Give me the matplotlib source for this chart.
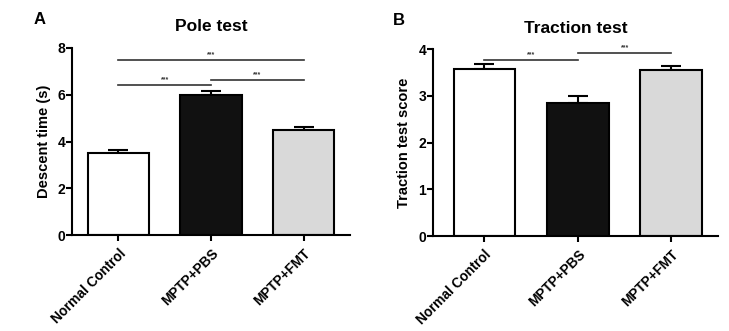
import numpy as np
import matplotlib.pyplot as plt

plt.rcParams['font.family'] = ['Liberation Sans', 'DejaVu Sans']
plt.rcParams['font.weight'] = 'bold'

groups = ['Normal Control', 'MPTP+PBS', 'MPTP+FMT']
bar_colors = ['white', '#111111', '#d9d9d9']

pole_mean = [3.5, 6.0, 4.5]
pole_sem = [0.13, 0.17, 0.1]
pole_sig = [(0, 2, 7.5), (0, 1, 6.42), (1, 2, 6.63)]

traction_mean = [3.58, 2.85, 3.55]
traction_sem = [0.11, 0.15, 0.1]
traction_sig = [(0, 1, 3.78), (1, 2, 3.93)]


def draw_panel(ax, means, sems, sigs, ymax, ystep, ylabel, title, letter, xlo):
    x = np.arange(len(groups))
    ax.bar(x, means, width=0.66, color=bar_colors, edgecolor='black', linewidth=1.5, zorder=2)
    ax.errorbar(x, means, yerr=[np.zeros(len(sems)), sems], fmt='none', ecolor='black',
                elinewidth=1.5, capsize=7, capthick=1.5, zorder=1)
    for x0, x1, y in sigs:
        ax.plot([x0, x1], [y, y], color='#333333', lw=1.2, clip_on=False)
        ax.text((x0 + x1) / 2, y + ymax * 0.008, '***', ha='center', va='bottom',
                fontsize=5, color='#333333')
    ax.set_xlim(xlo, 2.5)
    ax.set_ylim(0, ymax)
    ax.set_yticks(np.arange(0, ymax + 0.01, ystep))
    ax.set_xticks(x)
    ax.set_xticklabels(groups, rotation=45, ha='right', rotation_mode='anchor', fontsize=9.8)
    ax.tick_params(axis='y', labelsize=10, width=1.5, length=4, direction='out', pad=1)
    ax.tick_params(axis='x', width=1.5, length=4, direction='out', pad=4)
    for s in ['top', 'right']:
        ax.spines[s].set_visible(False)
    for s in ['left', 'bottom']:
        ax.spines[s].set_linewidth(1.5)
    ax.set_ylabel(ylabel, fontsize=10.5, fontweight='bold', labelpad=5)
    ax.set_title(title, fontsize=12.5, fontweight='bold', pad=12)
    ax.text(-0.14, 1.13, letter, transform=ax.transAxes, fontsize=12, fontweight='bold',
            va='baseline')


fig = plt.figure(figsize=(7.29, 3.31), dpi=100)
ax1 = fig.add_axes([0.099, 0.29, 0.381, 0.565])
ax2 = fig.add_axes([0.594, 0.287, 0.391, 0.564])

draw_panel(ax1, pole_mean, pole_sem, pole_sig, 8, 2, 'Descent time (s)', 'Pole test', 'A', -0.5)
draw_panel(ax2, traction_mean, traction_sem, traction_sig, 4, 1, 'Traction test score',
           'Traction test', 'B', -0.55)

fig.savefig('out.png', dpi=100)
